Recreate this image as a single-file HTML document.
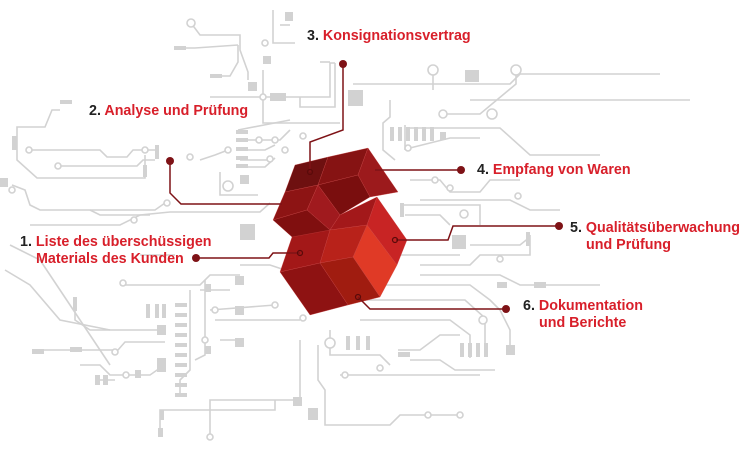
<!DOCTYPE html><html><head><meta charset="utf-8"><style>
html,body{margin:0;padding:0;background:#fff}
.w{position:relative;width:750px;height:451px;overflow:hidden;font-family:"Liberation Sans",sans-serif}
.l{position:absolute;font-size:14.3px;font-weight:bold;color:#d81f2a;line-height:17px;white-space:nowrap}
.l b{color:#222}
svg{position:absolute;left:0;top:0}
</style></head><body><div class="w">
<svg width="750" height="451" viewBox="0 0 750 451">
<g fill="none" stroke="#d2d2d2" stroke-width="1.6">
<path d="M191 23 L200 35 L240 35 L240 50 L248 72 L248 80"/>
<path d="M180 48 L195 48 L238 45"/><path d="M215 76 L230 76 L238 62 L238 45"/>
<path d="M273 10 L273 43 L295 43"/><path d="M280 25 L290 25"/>
<path d="M210 97 L330 97 L330 63 L335 63"/><path d="M263 70 L263 123 L340 123"/>
<path d="M300 97 L300 107 L335 107 L335 63"/><path d="M320 62 L330 62"/>
<path d="M353 84 L380 84 L400 84 L510 84 L520 74 L660 74"/>
<path d="M433 70 L433 90"/><path d="M516 70 L516 84 L480 114 L443 114"/>
<path d="M390 100 L390 117 L383 123 L383 150 L395 160"/><path d="M405 125 L405 150"/>
<path d="M470 100 L690 100"/><path d="M408 128 L500 128 L530 155 L600 155"/>
<path d="M410 148 L450 138 L480 138"/>
<path d="M60 110 L52 110 L45 127 L17 127 L17 160 L37 178 L145 178 L145 155"/>
<path d="M29 150 L45 150 L100 150 L107 157 L127 157 L133 150 L157 150"/>
<path d="M58 166 L137 166 L143 160 L155 160"/>
<path d="M12 185 L25 190 L30 205 L40 210 L155 210 L165 203"/>
<path d="M90 210 L100 215 L150 215"/>
<path d="M57 225 L120 225 L140 215 L170 212 L260 212 L270 203"/>
<path d="M57 225 L30 225"/>
<path d="M200 160 L215 155 L228 150"/><path d="M238 130 L290 120"/>
<path d="M240 140 L280 140 L290 130"/><path d="M240 150 L265 150 L275 145"/>
<path d="M240 160 L270 160"/><path d="M240 167 L265 167 L275 158"/>
<path d="M220 172 L220 195 L258 195"/>
<path d="M410 180 L440 180 L450 192 L480 192 L490 180 L520 180"/>
<path d="M400 205 L480 205 L480 225"/><path d="M420 200 L510 200 L530 210 L560 210"/>
<path d="M405 215 L440 215 L450 225"/><path d="M420 265 L470 265 L480 255 L530 255 L530 235"/>
<path d="M470 245 L520 245 L530 237"/><path d="M420 275 L500 275 L520 285 L600 285"/>
<path d="M400 255 L460 255"/>
<path d="M380 285 L470 285 L490 300 L500 310 L510 330 L510 350"/>
<path d="M365 300 L465 300 L485 318 L485 355"/><path d="M360 320 L450 320 L470 335 L470 358"/>
<path d="M330 330 L330 355 L380 355 L390 365"/><path d="M398 350 L420 350 L440 335 L460 335"/>
<path d="M410 360 L440 360 L455 370 L495 370"/>
<path d="M340 375 L480 375"/><path d="M318 345 L318 380 L325 390 L325 425 L390 425 L400 415 L460 415"/>
<path d="M300 340 L300 400 L210 400 L210 437"/><path d="M275 400 L275 410 L160 410 L160 435"/>
<path d="M240 265 L270 265 L285 270"/><path d="M200 290 L230 290"/>
<path d="M210 310 L275 305"/><path d="M215 320 L300 320"/>
<path d="M190 290 L190 370 L180 380 L180 395"/><path d="M205 280 L205 355 L195 360"/>
<path d="M220 340 L240 340"/><path d="M120 285 L200 285 L210 275 L240 275"/>
<path d="M75 305 L75 320 L90 330 L160 330"/><path d="M40 350 L118 350 L125 342 L165 342"/>
<path d="M80 365 L100 365 L110 375 L150 375 L160 368"/><path d="M98 380 L115 380"/>
<path d="M10 245 L40 260 L50 275 L60 290 L110 365"/>
<path d="M5 270 L30 285 L60 320 L110 330"/>
<path d="M140 255 L175 255"/>
</g>
<g fill="#fff" stroke="#d2d2d2" stroke-width="1.6">
<circle cx="191" cy="23" r="4"/><circle cx="265" cy="43" r="3"/><circle cx="263" cy="97" r="3"/>
<circle cx="433" cy="70" r="5"/><circle cx="516" cy="70" r="5"/><circle cx="492" cy="114" r="5"/><circle cx="443" cy="114" r="4"/>
<circle cx="29" cy="150" r="3"/><circle cx="58" cy="166" r="3"/><circle cx="145" cy="150" r="3"/>
<circle cx="12" cy="190" r="3"/><circle cx="167" cy="203" r="3"/><circle cx="134" cy="220" r="3"/>
<circle cx="228" cy="186" r="5"/><circle cx="190" cy="157" r="3"/><circle cx="228" cy="150" r="3"/>
<circle cx="259" cy="140" r="3"/><circle cx="275" cy="140" r="3"/><circle cx="285" cy="150" r="3"/><circle cx="270" cy="159" r="3"/><circle cx="303" cy="136" r="3"/>
<circle cx="408" cy="148" r="3"/><circle cx="435" cy="180" r="3"/><circle cx="450" cy="188" r="3"/><circle cx="518" cy="196" r="3"/>
<circle cx="464" cy="214" r="4"/><circle cx="500" cy="259" r="3"/><circle cx="483" cy="320" r="4"/>
<circle cx="330" cy="343" r="5"/><circle cx="380" cy="368" r="3"/><circle cx="345" cy="375" r="3"/>
<circle cx="428" cy="415" r="3"/><circle cx="460" cy="415" r="3"/><circle cx="210" cy="437" r="3"/>
<circle cx="123" cy="283" r="3"/><circle cx="215" cy="310" r="3"/><circle cx="205" cy="340" r="3"/><circle cx="275" cy="305" r="3"/>
<circle cx="115" cy="352" r="3"/><circle cx="126" cy="375" r="3"/><circle cx="303" cy="318" r="3"/>
</g>
<g fill="#d2d2d2">
<rect x="285" y="12" width="8" height="9"/><rect x="263" y="56" width="8" height="8"/><rect x="248" y="82" width="9" height="9"/>
<rect x="270" y="93" width="16" height="8"/><rect x="348" y="90" width="15" height="16"/><rect x="465" y="70" width="14" height="12"/>
<rect x="390" y="127" width="4" height="14"/><rect x="398" y="127" width="4" height="14"/><rect x="406" y="127" width="4" height="14"/><rect x="414" y="127" width="4" height="14"/><rect x="422" y="127" width="4" height="14"/><rect x="430" y="127" width="4" height="14"/>
<rect x="440" y="132" width="6" height="8"/><rect x="12" y="136" width="5" height="14"/><rect x="155" y="145" width="4" height="14"/><rect x="143" y="165" width="4" height="12"/>
<rect x="0" y="178" width="8" height="9"/><rect x="240" y="175" width="9" height="9"/><rect x="240" y="224" width="15" height="16"/>
<rect x="236" y="130" width="12" height="4"/><rect x="236" y="138" width="12" height="4"/><rect x="236" y="147" width="12" height="4"/><rect x="236" y="156" width="12" height="4"/><rect x="236" y="164" width="12" height="4"/>
<rect x="60" y="100" width="12" height="4"/><rect x="174" y="46" width="12" height="4"/><rect x="210" y="74" width="12" height="4"/>
<rect x="452" y="235" width="14" height="14"/><rect x="400" y="203" width="4" height="14"/><rect x="526" y="232" width="4" height="14"/>
<rect x="534" y="282" width="12" height="6"/><rect x="497" y="282" width="10" height="6"/>
<rect x="346" y="336" width="4" height="14"/><rect x="356" y="336" width="4" height="14"/><rect x="366" y="336" width="4" height="14"/>
<rect x="460" y="343" width="4" height="14"/><rect x="468" y="343" width="4" height="14"/><rect x="476" y="343" width="4" height="14"/><rect x="484" y="343" width="4" height="14"/>
<rect x="506" y="345" width="9" height="10"/><rect x="398" y="352" width="12" height="5"/>
<rect x="175" y="303" width="12" height="4"/><rect x="175" y="313" width="12" height="4"/><rect x="175" y="323" width="12" height="4"/><rect x="175" y="333" width="12" height="4"/><rect x="175" y="343" width="12" height="4"/><rect x="175" y="353" width="12" height="4"/><rect x="175" y="363" width="12" height="4"/><rect x="175" y="373" width="12" height="4"/><rect x="175" y="383" width="12" height="4"/><rect x="175" y="393" width="12" height="4"/>
<rect x="235" y="276" width="9" height="9"/><rect x="235" y="306" width="9" height="9"/><rect x="235" y="338" width="9" height="9"/>
<rect x="157" y="325" width="9" height="10"/><rect x="157" y="358" width="9" height="14"/>
<rect x="146" y="304" width="4" height="14"/><rect x="155" y="304" width="4" height="14"/><rect x="162" y="304" width="4" height="14"/>
<rect x="73" y="297" width="4" height="14"/><rect x="32" y="349" width="12" height="5"/><rect x="70" y="347" width="12" height="5"/>
<rect x="95" y="375" width="5" height="10"/><rect x="103" y="375" width="5" height="10"/><rect x="135" y="370" width="6" height="8"/>
<rect x="293" y="397" width="9" height="9"/><rect x="308" y="408" width="10" height="12"/><rect x="160" y="410" width="4" height="10"/><rect x="158" y="428" width="5" height="9"/>
<rect x="205" y="284" width="6" height="8"/><rect x="205" y="346" width="6" height="8"/>
</g>
<g stroke="#c44" stroke-width="0.3">
<polygon points="295,165 328,157 318,185 285,192" fill="#6e1010"/>
<polygon points="328,157 368,148 358,175 318,185" fill="#861313"/>
<polygon points="368,148 398,192 370,197 358,175" fill="#9c1a1c"/>
<polygon points="318,185 358,175 370,197 340,215" fill="#7a0e0e"/>
<polygon points="285,192 318,185 307,210 273,220" fill="#8d1414"/>
<polygon points="318,185 340,215 330,230 307,210" fill="#a01a1e"/>
<polygon points="273,220 307,210 330,230 305,252 292,237" fill="#800f0f"/>
<polygon points="340,215 377,197 367,225 330,230" fill="#a3181a"/>
<polygon points="377,197 407,240 397,265 367,225" fill="#c82424"/>
<polygon points="367,225 397,265 380,297 353,257" fill="#e03a26"/>
<polygon points="330,230 367,225 353,257 320,263" fill="#b8221a"/>
<polygon points="292,237 330,230 320,263 280,272" fill="#a31818"/>
<polygon points="320,263 353,257 380,297 348,305" fill="#a01c10"/>
<polygon points="280,272 320,263 348,305 310,315" fill="#8e1212"/>
</g>
<g fill="none" stroke="#7e1216" stroke-width="1.5">
<path d="M343 64 L343 130 L310 142 L310 172"/>
<path d="M170 161 L170 193 L181 204 L282 204"/>
<path d="M461 170 L375 170"/>
<path d="M196 258 L269 258 L273 253 L300 253"/>
<path d="M559 226 L453 226 L448 240 L396 240"/>
<path d="M506 309 L370 309 L358 297"/>
</g>
<g fill="#7e1216">
<circle cx="343" cy="64" r="4"/><circle cx="170" cy="161" r="4"/><circle cx="461" cy="170" r="4"/>
<circle cx="196" cy="258" r="4"/><circle cx="559" cy="226" r="4"/><circle cx="506" cy="309" r="4"/>
</g>
<g fill="none" stroke="#5a0a0a" stroke-width="1.2"><circle cx="310" cy="172" r="2.5"/><circle cx="300" cy="253" r="2.5"/><circle cx="395" cy="240" r="2.5"/><circle cx="358" cy="297" r="2.5"/></g>
</svg>
<div class="l" style="left:307px;top:28px"><b>3.</b> Konsignationsvertrag</div>
<div class="l" style="left:89px;top:103px"><b>2.</b> Analyse und Prüfung</div>
<div class="l" style="left:477px;top:162px"><b>4.</b> Empfang von Waren</div>
<div class="l" style="left:20px;top:234px"><b>1.</b> Liste des überschüssigen<br><span style="padding-left:16px">Materials des Kunden</span></div>
<div class="l" style="left:570px;top:220px"><b>5.</b> Qualitätsüberwachung<br><span style="padding-left:16px">und Prüfung</span></div>
<div class="l" style="left:523px;top:298px"><b>6.</b> Dokumentation<br><span style="padding-left:16px">und Berichte</span></div>
</div></body></html>
